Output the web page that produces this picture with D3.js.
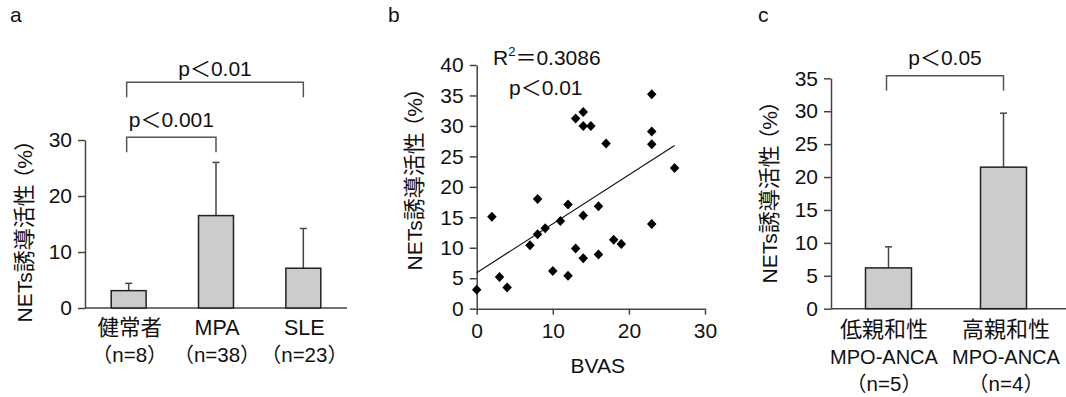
<!DOCTYPE html>
<html>
<head>
<meta charset="utf-8">
<script src="https://cdn.jsdelivr.net/npm/d3@7"></script>
<style>
body { margin: 0; background: #fff; }
text { font-family: "Liberation Sans", Arial, "Noto Sans CJK JP", sans-serif; fill: #111; }
.palt { font-feature-settings: "palt"; }
</style>
</head>
<body>
<script>
// ---- panel a: bars ----
var groupsA = ["健常者", "MPA", "SLE"];
var countsA = ["（n=8）", "（n=38）", "（n=23）"];
var meanA = [3.1, 16.5, 7.1];
var errA = [1.3, 9.5, 7.1];
var ticksA = [0, 10, 20, 30];
var bracketsA = [
  {from: 0, to: 1, y: 30.5, gap: 10, label: "p＜0.001"},
  {from: 0, to: 2, y: 40.3, gap: 6, label: "p＜0.01"}
];

// ---- panel b: scatter ----
var bvas = [23, 13, 14, 14, 15, 17, 23, 23, 26, 8, 2, 12, 16, 14, 11, 9, 8, 7, 13, 14, 16, 18, 19, 23, 10, 12, 3, 4, 0];
var nets = [35.2, 31.2, 32.3, 30, 30, 27.1, 29.1, 27, 23.1, 18, 15.1, 17.1, 16.8, 15.3, 14.4, 13.2, 12.2, 10.4, 9.9, 8.3, 8.9, 11.3, 10.6, 13.9, 6.2, 5.4, 5.2, 3.5, 3.1];
var fitX = [0, 26];
var fitY = [5.9, 26.8];
var ticksBx = [0, 10, 20, 30];
var ticksBy = [0, 5, 10, 15, 20, 25, 30, 35, 40];

// ---- panel c: bars ----
var groupsC = ["低親和性", "高親和性"];
var subC = ["MPO-ANCA", "MPO-ANCA"];
var countsC = ["（n=5）", "（n=4）"];
var meanC = [6.2, 21.5];
var errC = [3.2, 8.2];
var ticksC = [0, 5, 10, 15, 20, 25, 30, 35];
var bracketsC = [{from: 0, to: 1, y: 35.4, gap: 11, label: "p＜0.05"}];

var axisColor = "#444";

var svg = d3.select("body").append("svg")
  .attr("width", 1066)
  .attr("height", 397);

function styleAxis(g) {
  g.attr("font-family", null).attr("font-size", 21);
  g.selectAll("path, line").attr("stroke", axisColor).attr("stroke-width", 1.5);
}

function leftAxis(scale, x, ticks) {
  svg.append("g")
    .attr("transform", "translate(" + x + ",0)")
    .call(d3.axisLeft(scale).tickValues(ticks).tickSizeInner(7).tickSizeOuter(0).tickPadding(6))
    .call(styleAxis);
}

function panelLetter(txt, x) {
  svg.append("text").attr("x", x).attr("y", 22).attr("font-size", 21).text(txt);
}

// rotated y title: NETs誘導活性（%）
function sideTitle(x, y) {
  var t = svg.append("text")
    .attr("transform", "translate(" + x + "," + y + ") rotate(-90)")
    .attr("text-anchor", "middle")
    .attr("font-size", 21);
  t.append("tspan").text("NETs");
  t.append("tspan").attr("font-size", 22).text("誘導活性");
  t.append("tspan").attr("class", "palt").attr("dx", 5).text("（%）");
}

// draw bars with upper error bars and brackets
function barPanel(groups, means, errs, x, y, xEnd, brackets) {
  var y0 = y(0);
  svg.append("line")
    .attr("x1", x.range()[0]).attr("x2", xEnd)
    .attr("y1", y0).attr("y2", y0)
    .attr("stroke", axisColor).attr("stroke-width", 1.5);

  groups.forEach(function(g, i) {
    var cx = x(g) + x.bandwidth() / 2;
    // error bar
    svg.append("line")
      .attr("x1", cx).attr("x2", cx)
      .attr("y1", y(means[i])).attr("y2", y(means[i] + errs[i]))
      .attr("stroke", axisColor).attr("stroke-width", 1.5);
    svg.append("line")
      .attr("x1", cx - 3.5).attr("x2", cx + 3.5)
      .attr("y1", y(means[i] + errs[i])).attr("y2", y(means[i] + errs[i]))
      .attr("stroke", axisColor).attr("stroke-width", 1.5);
    svg.append("rect")
      .attr("x", x(g))
      .attr("y", y(means[i]))
      .attr("width", x.bandwidth())
      .attr("height", y0 - y(means[i]))
      .attr("fill", "#cccccc")
      .attr("stroke", "#222")
      .attr("stroke-width", 1.5);
  });

  brackets.forEach(function(b) {
    var x1 = x(groups[b.from]) + x.bandwidth() / 2 - 2;
    var x2 = x(groups[b.to]) + x.bandwidth() / 2;
    var by = y(b.y);
    svg.append("path")
      .attr("d", "M" + x1 + "," + (by + 15) + "V" + by + "H" + x2 + "V" + (by + 15))
      .attr("fill", "none")
      .attr("stroke", "#555")
      .attr("stroke-width", 1.5);
    svg.append("text")
      .attr("x", (x1 + x2) / 2)
      .attr("y", by - b.gap)
      .attr("text-anchor", "middle")
      .attr("font-size", 21)
      .text(b.label);
  });
}

// category labels, one row per array, centred by the given function
function catLabels(lines, sizes, center, y0) {
  lines.forEach(function(arr, li) {
    arr.forEach(function(t, i) {
      svg.append("text")
        .attr("x", center(i))
        .attr("y", y0 + li * 27)
        .attr("text-anchor", "middle")
        .attr("font-size", sizes[li])
        .text(t);
    });
  });
}

// ===== panel a =====
var xA = d3.scaleBand().domain(groupsA).range([85, 347]).paddingInner(0.6).paddingOuter(0.3);
var yA = d3.scaleLinear().domain([0, 30]).range([308, 140]);
barPanel(groupsA, meanA, errA, xA, yA, 347, bracketsA);
leftAxis(yA, 85, ticksA);
catLabels([groupsA, countsA], [21.5, 20.5], function(i) { return xA(groupsA[i]) + xA.bandwidth() / 2 + 1; }, 335);
sideTitle(32, 231);
panelLetter("a", 10);

// ===== panel b =====
var xB = d3.scaleLinear().domain([0, 30]).range([476.7, 705]);
var yB = d3.scaleLinear().domain([0, 40]).range([308.7, 65]);

svg.append("g")
  .attr("transform", "translate(0," + yB(0) + ")")
  .call(d3.axisBottom(xB).tickValues(ticksBx).tickSizeInner(6).tickSizeOuter(0).tickPadding(8))
  .call(styleAxis);
leftAxis(yB, xB(0), ticksBy);

svg.append("path")
  .datum(d3.zip(fitX, fitY))
  .attr("d", d3.line().x(function(d) { return xB(d[0]); }).y(function(d) { return yB(d[1]); }))
  .attr("stroke", "#111")
  .attr("stroke-width", 1.2)
  .attr("fill", "none");

var diamond = {
  draw: function(ctx, size) {
    var r = Math.sqrt(size / 2);
    ctx.moveTo(0, -r);
    ctx.lineTo(r * 0.95, 0);
    ctx.lineTo(0, r);
    ctx.lineTo(-r * 0.95, 0);
    ctx.closePath();
  }
};
svg.append("g").selectAll("path")
  .data(d3.zip(bvas, nets))
  .join("path")
  .attr("transform", function(d) { return "translate(" + xB(d[0]) + "," + yB(d[1]) + ")"; })
  .attr("d", d3.symbol(diamond, 50))
  .attr("fill", "#000");

var r2 = svg.append("text").attr("x", 493).attr("y", 65).attr("font-size", 21);
r2.append("tspan").text("R");
r2.append("tspan").attr("font-size", 13).attr("dy", -9).text("2");
r2.append("tspan").attr("dy", 9).text("＝0.3086");
svg.append("text").attr("x", 509).attr("y", 95).attr("font-size", 21).text("p＜0.01");

svg.append("text")
  .attr("x", (xB(0) + xB(30)) / 2 + 7)
  .attr("y", 373)
  .attr("text-anchor", "middle")
  .attr("font-size", 21)
  .text("BVAS");
sideTitle(421.7, 179);
panelLetter("b", 388);

// ===== panel c =====
var xC = d3.scaleBand().domain(groupsC).range([831, 1061]).paddingInner(0.6).paddingOuter(0.3);
var yC = d3.scaleLinear().domain([0, 35]).range([308.7, 78.3]);
var labC = d3.scalePoint().domain(groupsC).range([884, 1006]);
barPanel(groupsC, meanC, errC, xC, yC, 1066, bracketsC);
leftAxis(yC, 831, ticksC);
catLabels([groupsC, subC, countsC], [22, 20, 20.5], function(i) { return labC(groupsC[i]); }, 337);
sideTitle(776.7, 192);
panelLetter("c", 758);
</script>
</body>
</html>
